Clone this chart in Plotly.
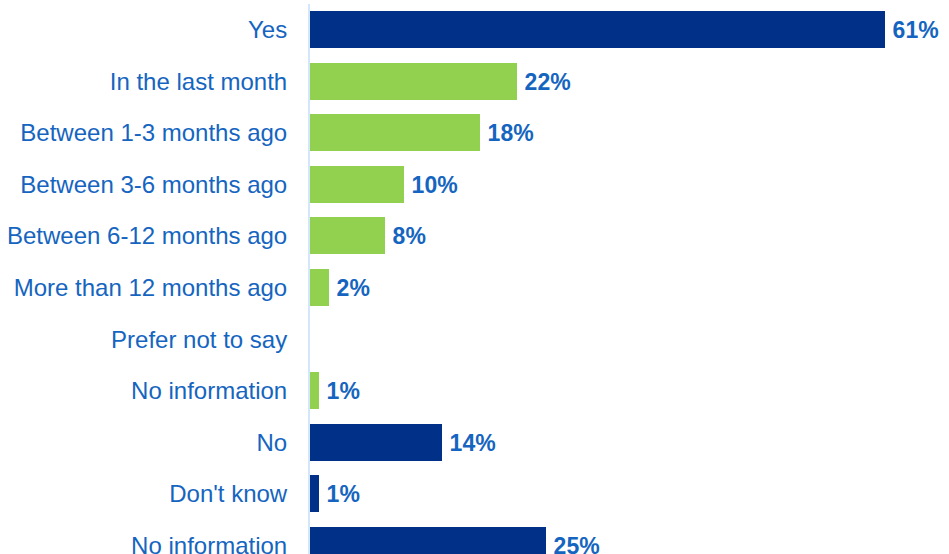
import plotly.graph_objects as go

# Survey responses, top to bottom
categories = [
    "Yes",
    "In the last month",
    "Between 1-3 months ago",
    "Between 3-6 months ago",
    "Between 6-12 months ago",
    "More than 12 months ago",
    "Prefer not to say",
    "No information",
    "No",
    "Don't know",
    "No information",
]
percent = [61, 22, 18, 10, 8, 2, None, 1, 14, 1, 25]
group = ["main", "sub", "sub", "sub", "sub", "sub", "sub", "sub", "main", "main", "main"]

NAVY = "#003087"
GREEN = "#92d050"
TEXT_BLUE = "#1565c0"
AXIS_BLUE = "#d2e7fb"
FONT = "Liberation Sans, Arial, sans-serif"

positions = list(range(len(categories)))
bar_colors = [NAVY if g == "main" else GREEN for g in group]
labels = [f"\u2009{v}%" if v is not None else "" for v in percent]
values = [v if v is not None else 0 for v in percent]

fig = go.Figure(
    go.Bar(
        x=values,
        y=positions,
        orientation="h",
        marker=dict(color=bar_colors, line=dict(width=0)),
        width=0.717,
        text=labels,
        textposition="outside",
        textfont=dict(family=FONT, size=23, color=TEXT_BLUE, weight="bold"),
        cliponaxis=False,
        hoverinfo="skip",
    )
)

row_px = 51.6
first_center = 29.5
top_px = 4
height = 554

fig.update_layout(
    width=949,
    height=height,
    margin=dict(l=310, r=0, t=top_px, b=0, pad=0, autoexpand=False),
    paper_bgcolor="white",
    plot_bgcolor="white",
    showlegend=False,
    bargap=0,
    font=dict(family=FONT, size=24, color=TEXT_BLUE),
)

fig.update_xaxes(
    range=[0, 639 / 9.426],
    showgrid=False,
    zeroline=False,
    showticklabels=False,
    showline=False,
    automargin=False,
)

fig.update_yaxes(
    tickmode="array",
    tickvals=positions,
    ticktext=categories,
    range=[(height - first_center) / row_px, (top_px - first_center) / row_px],
    showgrid=False,
    zeroline=False,
    showline=True,
    linecolor=AXIS_BLUE,
    linewidth=2,
    ticks="",
    ticklabelstandoff=16,
    ticklabeloverflow="allow",
    automargin=False,
    tickfont=dict(family=FONT, size=24, color=TEXT_BLUE),
)

fig.write_html("out.html")
